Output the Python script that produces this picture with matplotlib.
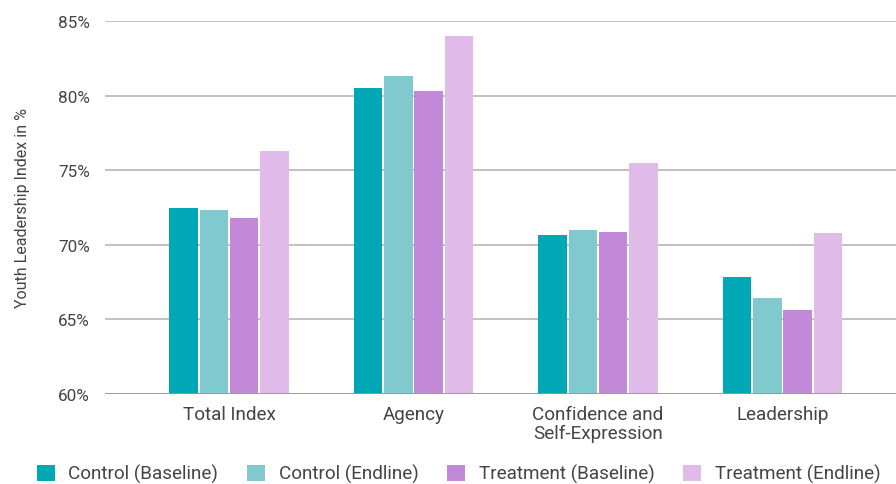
import matplotlib
matplotlib.use("Agg")
import matplotlib.pyplot as plt
import numpy as np
from matplotlib.ticker import FuncFormatter

categories = ["Total Index", "Agency", "Confidence and\nSelf-Expression", "Leadership"]
series_names = ["Control (Baseline)", "Control (Endline)", "Treatment (Baseline)", "Treatment (Endline)"]
control_baseline = [72.5, 80.5, 70.65, 67.85]
control_endline = [72.3, 81.3, 71.0, 66.45]
treatment_baseline = [71.8, 80.3, 70.85, 65.6]
treatment_endline = [76.3, 84.0, 75.45, 70.8]
colors = ["#00A8B5", "#80C9CF", "#C389D9", "#E0BAE9"]

plt.rcParams["font.family"] = ["Roboto", "DejaVu Sans"]
text_color = "#444444"

fig = plt.figure(figsize=(8.96, 4.85), dpi=100)
ax = fig.add_axes([105 / 896, 1 - 395 / 485, 791 / 896, (395 - 22) / 485])

x = np.arange(len(categories))
pitch = 0.164
width = 0.155
all_series = [control_baseline, control_endline, treatment_baseline, treatment_endline]
for i, (vals, name, c) in enumerate(zip(all_series, series_names, colors)):
    offs = (i - 1.5) * pitch
    ax.bar(x + offs, vals, width=width, bottom=0, color=c, label=name, zorder=3)

ax.set_ylim(60, 85)
ax.set_xlim(-0.672, 3.615)
ax.set_yticks([60, 65, 70, 75, 80, 85])
ax.yaxis.set_major_formatter(FuncFormatter(lambda v, p: f"{v:.0f}%"))
ax.grid(axis="y", color="#b0b0b0", linewidth=1.1, zorder=0)
for s in ax.spines.values():
    s.set_visible(False)
ax.axhline(60, color="#999999", linewidth=1.3, zorder=4)
ax.tick_params(axis="y", length=0, pad=11, labelsize=12.3, labelcolor=text_color)
ax.tick_params(axis="x", length=0, pad=8, labelsize=13.6, labelcolor=text_color)
ax.set_xticks(x)
ax.set_xticklabels(categories, linespacing=1.05)
ax.set_ylabel("Youth Leadership Index in %", fontsize=11.5, color=text_color, labelpad=20)

handles, labels = ax.get_legend_handles_labels()
leg = fig.legend(handles, labels, loc="center", bbox_to_anchor=(0.512, 0.021), ncol=4,
                 frameon=False, fontsize=13.6, handlelength=0.95, handleheight=0.95,
                 handletextpad=0.7, columnspacing=1.54, borderaxespad=0)
for t in leg.get_texts():
    t.set_color(text_color)

fig.savefig("out.png", dpi=100, facecolor="white")
